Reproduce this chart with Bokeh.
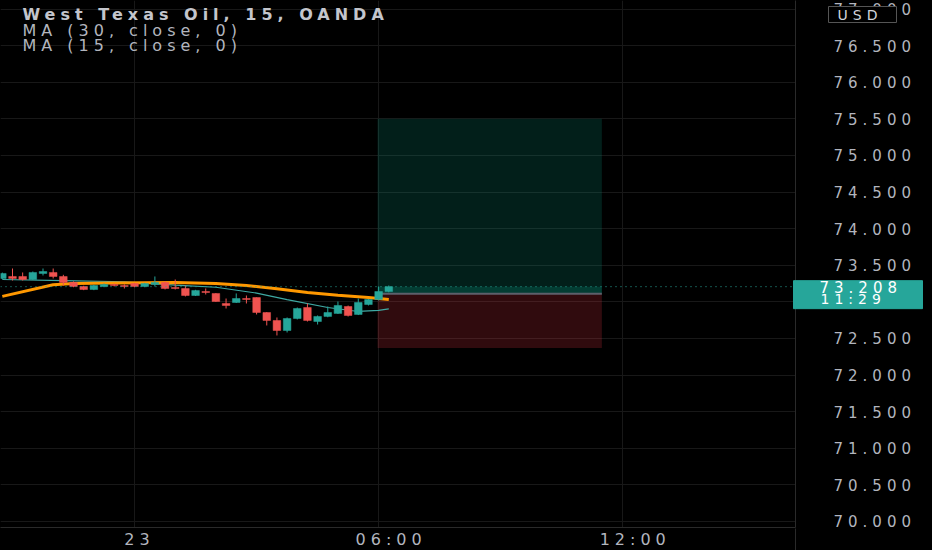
from bokeh.plotting import figure
from bokeh.layouts import column
from bokeh.models import (ColumnDataSource, FixedTicker, NumeralTickFormatter, Span,
                          Label, Range1d, InlineStyleSheet)
from bokeh.core.properties import value
from bokeh.embed import file_html
from bokeh.resources import INLINE

# 15 min bars of WTI, bar 36 = 06:00, bar 37 is the live one
bar_idx = list(range(-1, 38))
opens = [73.320, 73.347, 73.347, 73.306, 73.388, 73.402, 73.347, 73.265, 73.210, 73.169,
         73.210, 73.238, 73.224, 73.251, 73.210, 73.238, 73.265, 73.197, 73.183, 73.087,
         73.142, 73.115, 72.978, 72.992, 73.046, 73.060, 72.855, 72.746, 72.609, 72.773,
         72.923, 72.732, 72.801, 72.842, 72.937, 72.828, 72.964, 73.033, 73.142]
highs = [73.400, 73.456, 73.402, 73.415, 73.456, 73.456, 73.370, 73.280, 73.220, 73.235,
         73.250, 73.250, 73.240, 73.260, 73.260, 73.347, 73.280, 73.306, 73.224, 73.165,
         73.183, 73.120, 73.046, 73.115, 73.087, 73.060, 72.860, 72.787, 72.787, 72.923,
         72.978, 72.814, 72.937, 73.005, 72.950, 73.046, 73.040, 73.210, 73.224]
lows = [73.310, 73.292, 73.292, 73.300, 73.361, 73.320, 73.224, 73.200, 73.160, 73.160,
        73.200, 73.210, 73.183, 73.200, 73.200, 73.210, 73.170, 73.169, 73.074, 73.080,
        73.101, 73.000, 72.910, 72.985, 72.978, 72.828, 72.678, 72.541, 72.582, 72.760,
        72.732, 72.691, 72.790, 72.835, 72.800, 72.820, 72.951, 73.020, 73.130]
closes = [73.388, 73.320, 73.306, 73.402, 73.415, 73.347, 73.265, 73.210, 73.169, 73.224,
          73.238, 73.224, 73.210, 73.210, 73.251, 73.265, 73.183, 73.183, 73.087, 73.156,
          73.128, 73.005, 72.951, 73.046, 73.033, 72.855, 72.746, 72.609, 72.773, 72.910,
          72.746, 72.801, 72.855, 72.951, 72.814, 72.992, 73.033, 73.142, 73.208]

# moving averages
ma30_x = [-1, 4, 6, 10, 16, 20, 23, 26, 29, 32, 35, 37]
ma30_y = [73.075, 73.235, 73.250, 73.258, 73.265, 73.250, 73.224, 73.180, 73.128, 73.090, 73.060, 73.033]
ma15_x = [-1, 5, 11, 16, 20, 24, 27, 31, 34, 36, 37]
ma15_y = [73.306, 73.290, 73.275, 73.228, 73.200, 73.120, 73.030, 72.923, 72.869, 72.885, 72.905]

# long position tool
pos_start, pos_end = 35.9, 57.95
target, entry, stop = 75.5, 73.11, 72.37
last_price = 73.208
countdown = "11:29"
currency = "USD"

y_ticks = [70.0, 70.5, 71.0, 71.5, 72.0, 72.5, 73.0, 73.5, 74.0, 74.5, 75.0, 75.5, 76.0, 76.5, 77.0]
x_tick_pos = [12, 36, 60]
x_tick_labels = ["23", "06:00", "12:00"]

UP, DOWN = "#26a69a", "#ef5350"
TXT = "#b2b5be"
FONT = "DejaVu Sans"
FS = "16px"

W, H = 932, 550
FW, FH = 795, 527          # price pane, rest is the price/time scales
Y_LO, Y_HI = 69.918, 77.117
ppu = FH / (Y_HI - Y_LO)   # pixels per dollar

# the reference is stretched sideways, widen the type a little
wide = InlineStyleSheet(css=":host { letter-spacing: 5px; }")

p = figure(frame_width=FW, frame_height=FH,
           x_range=(-1.18, 76.99), y_range=(Y_LO, Y_HI),
           y_axis_location="right", output_backend="svg", toolbar_location=None,
           min_border_left=0, min_border_top=0, min_border_right=W - FW, min_border_bottom=H - FH,
           background_fill_color="#000000", border_fill_color="#000000")
p.outline_line_color = None
p.stylesheets = [wide]

# axes
p.yaxis.ticker = FixedTicker(ticks=y_ticks)
p.yaxis.formatter = NumeralTickFormatter(format="0.000")
p.xaxis.ticker = FixedTicker(ticks=x_tick_pos)
p.xaxis.major_label_overrides = dict(zip(x_tick_pos, x_tick_labels))
for ax in (p.xaxis, p.yaxis):
    ax.axis_line_color = "#2a2a2a"
    ax.major_tick_line_color = None
    ax.minor_tick_line_color = None
    ax.major_tick_out = 0
    ax.major_label_text_color = TXT
    ax.major_label_text_font = FONT
    ax.major_label_text_font_size = FS
p.yaxis.major_label_text_font_size = "15px"
p.yaxis.major_label_standoff = 38
p.xaxis.major_label_standoff = 2
p.grid.grid_line_color = "#181818"

# position boxes
p.quad(left=pos_start, right=pos_end, bottom=entry, top=target,
       fill_color="#089981", fill_alpha=0.2, line_color=None)
p.quad(left=pos_start, right=pos_end, bottom=entry, top=last_price,
       fill_color="#089981", fill_alpha=0.25, line_color=None)
p.quad(left=pos_start, right=pos_end, bottom=stop, top=entry,
       fill_color="#f23645", fill_alpha=0.2, line_color=None)
p.segment(x0=pos_start, y0=entry, x1=pos_end, y1=entry, line_color="#5d606b", line_width=2)

# moving averages
p.line(ma15_x, ma15_y, line_color="#3fa9a3", line_width=1.2)
p.line(ma30_x, ma30_y, line_color="#ff9800", line_width=3)

# candles
colors = [UP if c >= o else DOWN for o, c in zip(opens, closes)]
src = ColumnDataSource(dict(
    x=bar_idx, high=highs, low=lows,
    top=[max(o, c) for o, c in zip(opens, closes)],
    bottom=[min(o, c) for o, c in zip(opens, closes)],
    color=colors))
p.segment(x0="x", y0="low", x1="x", y1="high", line_color="color", line_width=1, source=src)
p.vbar(x="x", width=0.75, top="top", bottom="bottom", fill_color="color",
       line_color="color", line_width=0.5, source=src)

# last price line
p.add_layout(Span(location=last_price, dimension="width", line_color=UP,
                  line_dash="1 4", line_width=1))

# header
for txt, ypos, style, col in [("West Texas Oil, 15, OANDA", FH - 14, "bold", "#c3c5cc"),
                              ("MA (30, close, 0)", FH - 30, "normal", TXT),
                              ("MA (15, close, 0)", FH - 45, "normal", TXT)]:
    p.add_layout(Label(x=22, y=ypos, x_units="screen", y_units="screen", text=txt,
                       text_font=FONT, text_font_size=FS, text_font_style=style,
                       text_color=col, text_baseline="middle"))

# overlay canvas for things that sit on the price scale
o = figure(frame_width=W, frame_height=H, output_backend="svg", toolbar_location=None,
           x_range=Range1d(0, W), y_range=Range1d(Y_LO - (H - FH) / ppu, Y_HI),
           x_axis_location=None, y_axis_location=None,
           min_border_left=0, min_border_top=0, min_border_right=0, min_border_bottom=0,
           background_fill_color=None, border_fill_color=None)
o.extra_y_ranges = {"px": Range1d(H, 0)}
o.outline_line_color = None
o.grid.visible = False
o.stylesheets = [wide]
o.margin = (-H, 0, 0, 0)

# price tag
o.quad(left=793, right=922, top=last_price + 7 / ppu, bottom=last_price - 21 / ppu,
       fill_color=UP, line_color=UP)
o.text(x=[819], y=[last_price + 0.5 / ppu], text=[f"{last_price:.3f}"], text_font=value(FONT),
       text_font_size="15px", text_color="#ffffff", text_baseline="middle")
o.text(x=[820], y=[last_price - 11.5 / ppu], text=[countdown], text_font=value(FONT),
       text_font_size="14px", text_color="#ffffff", text_baseline="middle")

# currency badge
o.quad(left=828, right=896, top=5, bottom=21, y_range_name="px",
       fill_color="#000000", line_color="#555555", line_width=1)
o.text(x=[837], y=[13.5], text=[currency], y_range_name="px", text_font=value(FONT),
       text_font_size="14px", text_color="#d1d4dc", text_baseline="middle")

# price scale border runs down through the time scale
o.segment(x0=FW, y0=FH, x1=FW, y1=H, y_range_name="px", line_color="#2a2a2a", line_width=1)

page = column(p, o)
html = file_html(page, INLINE)
html = html.replace("<body>", '<body style="background-color:#000000;">')
open("out.html", "w").write(html)
